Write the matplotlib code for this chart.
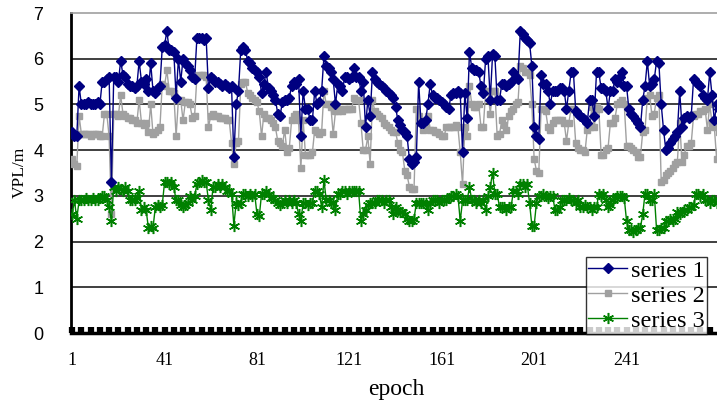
import numpy as np
import matplotlib
matplotlib.use("Agg")
import matplotlib.pyplot as plt

# 每个 epoch 的 VPL 值
series1 = [
    4.4, 4.3, 4.3, 5.4, 5.0, 5.0, 5.0, 5.05, 5.0, 5.0,
    5.0, 5.05, 5.0, 5.5, 5.5, 5.55, 5.6, 3.3, 5.6, 5.6,
    5.5, 5.95, 5.65, 5.6, 5.45, 5.4, 5.4, 5.35, 5.4, 5.95,
    5.5, 5.45, 5.55, 5.3, 5.9, 5.3, 5.25, 5.35, 5.4, 6.25,
    6.3, 6.6, 6.2, 6.2, 6.15, 5.15, 6.0, 5.5, 6.0, 5.9,
    5.85, 5.75, 5.6, 5.55, 6.45, 6.45, 6.45, 6.4, 6.45, 5.35,
    5.6, 5.55, 5.5, 5.5, 5.45, 5.4, 5.45, 5.4, 5.35, 5.4,
    3.85, 5.0, 5.3, 6.2, 6.25, 6.2, 5.95, 5.9, 5.8, 5.75,
    5.7, 5.6, 5.25, 5.45, 5.7, 5.35, 5.3, 5.2, 5.1, 4.8,
    4.75, 5.05, 5.1, 5.1, 5.15, 5.4, 5.5, 5.45, 5.55, 4.3,
    5.3, 4.9, 4.9, 4.65, 4.65, 5.3, 5.0, 5.05, 5.3, 6.05,
    5.85, 5.8, 5.7, 5.55, 5.0, 5.45, 5.4, 5.3, 5.6, 5.6,
    5.55, 5.6, 5.8, 5.6, 5.6, 5.3, 5.5, 4.5, 5.1, 4.75,
    5.7, 5.55, 5.5, 5.45, 5.4, 5.35, 5.3, 5.25, 5.2, 5.15,
    4.95, 4.65, 4.55, 4.45, 4.4, 4.3, 3.8, 3.7, 3.75, 3.85,
    5.5, 4.6, 4.6, 4.65, 5.0, 5.45, 5.2, 5.15, 5.15, 5.1,
    5.05, 5.0, 4.95, 4.9, 5.2, 5.25, 5.25, 5.3, 5.25, 3.95,
    5.25, 4.7, 6.15, 5.8, 5.75, 5.75, 5.7, 5.4, 5.25, 6.0,
    6.05, 5.1, 6.1, 6.05, 5.1, 5.1, 5.45, 5.45, 5.4, 5.45,
    5.5, 5.7, 5.6, 5.55, 6.6, 6.55, 6.45, 6.4, 6.35, 5.85,
    4.5, 4.3, 4.25, 5.65, 5.45, 5.45, 5.3, 5.0, 5.3, 5.3,
    5.3, 5.35, 5.35, 5.3, 4.9, 5.3, 5.7, 5.7, 4.85, 4.8,
    4.75, 4.7, 4.65, 4.6, 5.1, 5.1, 4.75, 5.7, 5.7, 5.35,
    5.35, 5.3, 4.9, 5.3, 5.3, 5.55, 5.5, 5.6, 5.7, 5.4,
    5.4, 4.9, 4.8, 4.75, 4.65, 4.6, 4.5, 5.1, 5.4, 5.95,
    5.4, 5.45, 5.55, 5.95, 5.9, 5.0, 4.45, 4.0, 4.05, 4.15,
    4.25, 4.3, 4.4, 5.3, 4.5, 4.7, 4.75, 4.7, 4.75, 5.55,
    5.5, 5.45, 5.4, 5.2, 5.15, 5.1, 5.7, 5.2, 4.65, 5.0,
    4.9,
]

series2 = [
    3.8, 3.7, 3.65, 4.75, 4.35, 4.35, 4.35, 4.35, 4.3, 4.35,
    4.35, 4.35, 4.3, 4.3, 4.8, 4.8, 4.3, 2.6, 4.8, 4.8,
    4.75, 5.2, 4.8, 4.75, 4.7, 4.7, 4.65, 4.65, 4.6, 5.1,
    4.6, 4.55, 4.6, 4.4, 5.0, 4.35, 4.4, 4.45, 4.5, 5.45,
    5.4, 5.75, 5.3, 5.3, 5.25, 4.3, 5.1, 5.1, 4.65, 5.05,
    5.05, 5.0, 4.7, 4.75, 5.6, 5.65, 5.65, 5.65, 5.6, 4.5,
    4.75, 4.8, 4.75, 4.75, 4.7, 4.7, 4.7, 4.65, 4.65, 4.15,
    3.7, 4.15, 4.2, 5.45, 5.5, 5.5, 5.25, 5.2, 5.15, 5.1,
    5.05, 4.85, 4.3, 4.8, 4.7, 4.7, 4.65, 4.6, 4.5, 4.2,
    4.15, 4.1, 4.45, 3.95, 4.05, 4.65, 4.75, 4.8, 4.65, 3.6,
    4.65, 3.9, 3.9, 3.9, 3.95, 4.45, 4.4, 4.35, 4.4, 5.3,
    5.0, 5.0, 4.95, 4.35, 4.85, 4.85, 4.9, 4.85, 4.9, 4.9,
    4.9, 4.9, 5.15, 5.1, 5.1, 4.6, 4.0, 4.0, 4.3, 3.7,
    5.1, 4.85, 4.8, 4.75, 4.7, 4.6, 4.55, 4.5, 4.45, 4.4,
    4.4, 4.15, 4.0, 3.95, 3.55, 3.45, 3.2, 3.15, 3.15, 4.9,
    4.75, 4.6, 4.45, 4.5, 4.75, 4.45, 4.45, 4.4, 4.4, 4.35,
    4.3, 4.3, 4.5, 4.5, 4.5, 4.5, 4.55, 4.5, 3.95, 3.25,
    4.5, 4.3, 5.4, 5.0, 4.95, 4.95, 5.0, 4.5, 4.5, 5.3,
    5.3, 4.8, 5.3, 5.3, 4.3, 4.35, 4.65, 4.55, 4.45, 4.75,
    4.85, 4.9, 5.0, 5.05, 5.85, 5.8, 5.7, 5.7, 5.65, 5.0,
    3.8, 3.55, 3.5, 4.9, 4.9, 4.85, 4.5, 4.45, 4.6, 4.65,
    4.65, 4.65, 4.65, 4.6, 4.2, 4.6, 4.9, 4.9, 4.15, 4.05,
    4.0, 4.0, 3.95, 4.45, 4.5, 4.95, 4.5, 4.95, 4.9, 3.9,
    3.9, 4.0, 4.05, 4.6, 4.6, 4.7, 5.0, 5.05, 5.1, 5.0,
    4.1, 4.1, 4.05, 4.0, 3.95, 3.85, 3.85, 4.4, 4.45, 5.15,
    5.2, 4.75, 4.8, 5.15, 5.2, 3.3, 3.35, 3.45, 3.5, 3.55,
    3.6, 3.7, 3.75, 4.6, 3.75, 3.9, 4.1, 4.1, 4.15, 4.75,
    4.8, 4.8, 4.85, 4.85, 4.9, 4.45, 5.0, 4.6, 4.5, 3.8,
    4.4,
]

series3 = [
    2.6, 2.9, 2.5, 2.9, 2.9, 2.9, 2.95, 2.9, 2.9, 2.95,
    2.9, 2.9, 2.95, 3.0, 3.0, 2.9, 2.75, 2.45, 3.2, 3.1,
    3.2, 3.15, 3.1, 3.2, 3.1, 2.9, 2.9, 2.9, 2.95, 3.1,
    2.7, 2.75, 2.7, 2.3, 2.35, 2.3, 2.75, 2.8, 2.75, 2.8,
    3.3, 3.3, 3.25, 3.3, 3.2, 2.9, 2.9, 2.8, 2.75, 2.8,
    2.85, 3.0, 2.9, 3.0, 3.25, 3.3, 3.35, 3.3, 3.3, 2.9,
    2.7, 3.2, 3.2, 3.25, 3.2, 3.25, 3.2, 3.1, 3.1, 3.05,
    2.35, 2.85, 2.8, 2.85, 3.05, 3.05, 3.0, 3.05, 3.0, 3.05,
    2.6, 2.55, 3.05, 3.05, 3.1, 3.05, 2.95, 2.95, 2.9, 2.85,
    2.8, 2.85, 2.9, 2.85, 2.9, 2.85, 2.9, 2.85, 2.6, 2.45,
    2.85, 2.85, 2.8, 2.85, 2.85, 3.1, 3.1, 3.05, 2.75, 3.35,
    2.9, 2.9, 2.85, 2.85, 2.7, 3.05, 3.05, 3.1, 3.1, 3.05,
    3.1, 3.1, 3.1, 3.1, 3.1, 2.45, 2.6, 2.7, 2.8, 2.85,
    2.85, 2.85, 2.9, 2.9, 2.9, 2.85, 2.9, 2.9, 2.75, 2.6,
    2.75, 2.7, 2.65, 2.65, 2.6, 2.5, 2.45, 2.45, 2.5, 2.85,
    2.85, 2.85, 2.85, 2.85, 2.7, 2.85, 2.9, 2.9, 2.9, 2.85,
    2.9, 2.9, 2.9, 2.95, 3.0, 3.0, 3.05, 3.0, 2.45, 2.9,
    2.9, 2.9, 3.2, 2.9, 2.9, 2.85, 2.9, 2.85, 2.9, 2.7,
    3.0, 3.2, 3.5, 3.05, 3.05, 2.75, 2.75, 2.75, 2.7, 2.75,
    2.75, 3.1, 3.1, 3.05, 3.25, 3.25, 3.2, 3.25, 2.85, 2.35,
    2.35, 2.85, 3.0, 3.0, 3.05, 3.0, 2.95, 3.0, 3.0, 2.7,
    2.7, 2.75, 2.9, 2.9, 2.9, 2.95, 2.9, 2.9, 2.85, 2.9,
    2.75, 2.75, 2.8, 2.75, 2.75, 2.7, 2.75, 2.75, 3.05, 3.0,
    3.05, 2.9, 2.75, 2.8, 2.9, 2.95, 3.0, 3.0, 3.0, 2.95,
    2.45, 2.25, 2.25, 2.2, 2.25, 2.3, 2.3, 2.6, 3.05, 3.05,
    2.9, 2.9, 3.05, 2.25, 2.25, 2.3, 2.3, 2.45, 2.45, 2.5,
    2.45, 2.5, 2.65, 2.6, 2.65, 2.7, 2.7, 2.75, 2.75, 2.8,
    3.05, 3.05, 3.0, 3.05, 2.9, 2.9, 2.85, 2.9, 2.9, 2.85,
    2.9,
]

labels = ["series 1", "series 2", "series 3"]
xtick_labels = [1, 41, 81, 121, 161, 201, 241]

epochs = np.arange(1, len(series1) + 1)

fig = plt.figure(figsize=(7.17, 4.09), dpi=100)
ax = fig.add_axes([71 / 717, 1 - 333 / 409, 1 - 71 / 717, (333 - 13) / 409])

ax.plot(epochs, series1, color="#000080", lw=1, marker="D", ms=4.8,
        mfc="#000080", mec="#000080", label=labels[0], zorder=4)
ax.plot(epochs, series2, color="#a0a0a0", lw=1, marker="s", ms=5,
        mfc="#a0a0a0", mec="#a0a0a0", label=labels[1], zorder=3)
ax.plot(epochs, series3, color="#008000", lw=1, marker=(6, 2, 0), ms=8,
        mew=1.1, mec="#008000", label=labels[2], zorder=3)

ax.set_xlim(0.5, 0.5 + (717 - 71) / 2.31)
ax.set_ylim(0, 7)

# 横向网格
for v in range(1, 7):
    ax.axhline(v, color="#303030", lw=1.3, zorder=1)

ax.spines["top"].set_color("#a0a0a0")
ax.spines["top"].set_linewidth(1.2)
ax.spines["right"].set_visible(False)
ax.spines["left"].set_linewidth(2)
ax.spines["bottom"].set_linewidth(2.5)

ax.set_yticks(range(0, 8))
ax.tick_params(axis="y", length=0, pad=20, labelsize=13)
for t in ax.get_yticklabels():
    t.set_family("Liberation Sans")

ax.set_xticks(xtick_labels)
ax.set_xticks(np.arange(5, 281, 4), minor=True)
ax.tick_params(axis="x", which="both", direction="in", length=4, width=4.5,
               color="black", pad=14, labelsize=13)
for t in ax.get_xticklabels():
    t.set_family("Liberation Serif")

fig.text(396 / 717, 1 - 390 / 409, "epoch", family="Liberation Serif",
         fontsize=17, ha="center", va="center")
fig.text(20 / 717, 1 - 172 / 409, "VPL/m", family="Liberation Serif",
         fontsize=12.5, ha="center", va="center", rotation=90)

leg = ax.legend(loc="lower left", bbox_to_anchor=(586 / 717, 1 - 334 / 409),
                bbox_transform=fig.transFigure, frameon=True, fancybox=False,
                prop={"family": "Liberation Serif", "size": 17.5},
                handlelength=1.6, handletextpad=0.15, borderpad=0.1,
                labelspacing=0.12, borderaxespad=0)
leg.get_frame().set_edgecolor("black")
leg.get_frame().set_linewidth(1)

fig.savefig("out.png", dpi=100)
